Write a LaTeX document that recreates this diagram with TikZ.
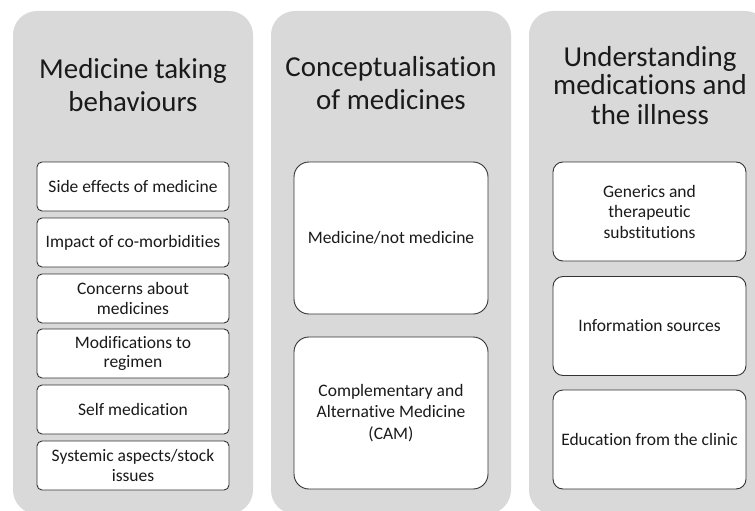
\documentclass[tikz,border=0pt]{standalone}
\usepackage{fontspec}
\setmainfont{Carlito}[Ligatures={NoCommon,NoRare}]
\definecolor{panelgray}{HTML}{D9D9D9}
\definecolor{inktext}{HTML}{1A1A1A}
\definecolor{boxline}{HTML}{333333}
\begin{document}
\begin{tikzpicture}[x=1pt,y=-1pt,
  panel/.style={fill=panelgray,draw=none,rounded corners=24pt},
  heading/.style={anchor=base,align=center,text=inktext,inner sep=0pt,
    font=\fontsize{28.9}{33}\selectfont},
  itembox/.style={draw=boxline,line width=0.9pt,fill=white,text=inktext,
    align=center,inner sep=2pt,font=\fontsize{17.5}{19.5}\selectfont},
  leftitem/.style={itembox,minimum width=192pt,minimum height=49pt,rounded corners=5pt},
  miditem/.style={itembox,minimum width=194pt,minimum height=152pt,rounded corners=15pt,
    font=\fontsize{17.5}{21.3}\selectfont},
  rightitem/.style={itembox,minimum width=193pt,minimum height=99pt,rounded corners=10pt,
    font=\fontsize{17.5}{20.5}\selectfont}]
\useasboundingbox (0,0) rectangle (755,511);
\clip (0,0) rectangle (755,511);

% three background columns
\path[panel] (13,11) rectangle (253,514);
\path[panel] (271,11) rectangle (511,514);
\path[panel] (529,11) rectangle (769,514);

% column headings (anchored at the baseline of the last line)
\node[heading] (h1) at (133,111) {Medicine taking\\behaviours};
\node[heading] (h2) at (391,110) {Conceptualisation\\of medicines};
\node[heading, font=\fontsize{28.9}{29}\selectfont] (h3) at (650,124)
  {Understanding\\medications and\\the illness};

% first column items
\node[leftitem] (a1) at (133,186.5) {Side effects of medicine};
\node[leftitem] (a2) at (133,242.5) {Impact of co-morbidities};
\node[leftitem] (a3) at (133,298.5) {Concerns about\\medicines};
\node[leftitem] (a4) at (133,353.5) {Modifications to\\regimen};
\node[leftitem] (a5) at (133,409.5) {Self medication};
\node[leftitem] (a6) at (133,465.5) {Systemic aspects/stock\\issues};

% second column items
\node[miditem] (b1) at (391,238) {Medicine/not medicine};
\node[miditem] (b2) at (391,413) {Complementary and\\Alternative Medicine\\(CAM)};

% third column items
\node[rightitem] (c1) at (649.5,211.5) {Generics and\\therapeutic\\substitutions};
\node[rightitem] (c2) at (649.5,326) {Information sources};
\node[rightitem] (c3) at (649.5,439.5) {Education from the clinic};
\end{tikzpicture}
\end{document}
